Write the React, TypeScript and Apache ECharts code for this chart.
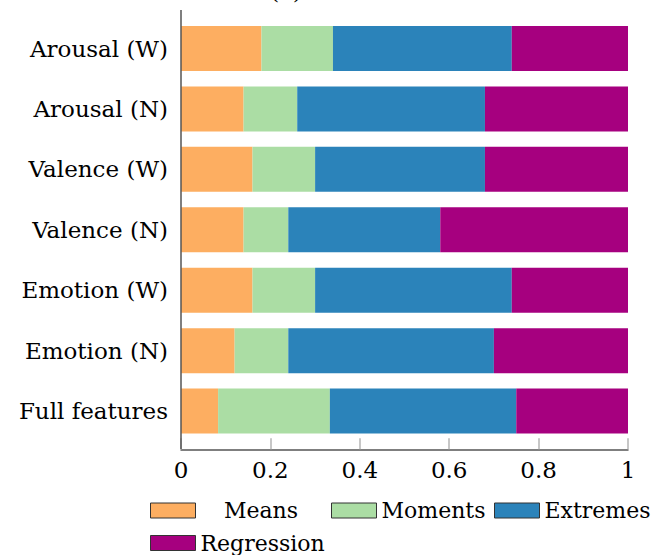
import React, { useEffect, useRef } from "react";
import * as echarts from "echarts";

const categories = ["Arousal (W)", "Arousal (N)", "Valence (W)", "Valence (N)", "Emotion (W)", "Emotion (N)", "Full features"];
const means = [0.18, 0.14, 0.16, 0.14, 0.16, 0.12, 0.083];
const moments = [0.16, 0.12, 0.14, 0.10, 0.14, 0.12, 0.25];
const extremes = [0.40, 0.42, 0.38, 0.34, 0.44, 0.46, 0.417];
const regression = [0.26, 0.32, 0.32, 0.42, 0.26, 0.30, 0.25];
const seriesNames = ["Means", "Moments", "Extremes", "Regression"];
const colors = ["#fdae61", "#abdda4", "#2b83ba", "#a6007f"];
const xTicks = [0, 0.2, 0.4, 0.6, 0.8, 1];

const FONT = "DejaVu Serif";
const FS = 23;

export default function App() {
  const ref = useRef<HTMLDivElement>(null);
  useEffect(() => {
    if (!ref.current) return;
    const chart = echarts.init(ref.current, null, { renderer: "svg" });
    const data = [means, moments, extremes, regression];
    const legendText = { fontFamily: FONT, fontSize: 22, color: "#000", lineHeight: 26 };
    const mkLegend = (name: string, left: number, top: number, centered: boolean) => ({
      data: [name],
      left,
      top,
      orient: "horizontal",
      itemWidth: 45,
      itemHeight: 15,
      padding: 0,
      icon: "rect",
      itemStyle: { borderColor: "#333", borderWidth: 1 },
      textStyle: centered
        ? { ...legendText, rich: { c: { fontFamily: FONT, fontSize: 22, color: "#000", width: 121, align: "center", lineHeight: 26 } } }
        : legendText,
      formatter: centered ? "{c|{name}}" : "{name}",
    });
    chart.setOption({
      animation: false,
      color: colors,
      textStyle: { fontFamily: FONT },
      grid: { left: 181, right: 26, top: 18.3, bottom: 113.7, containLabel: false },
      legend: [
        mkLegend("Means", 150, 497.5, true),
        mkLegend("Moments", 331, 497.5, false),
        mkLegend("Extremes", 494, 497.5, false),
        mkLegend("Regression", 150, 530, false),
      ],
      xAxis: {
        type: "value",
        min: 0,
        max: 1,
        interval: 0.2,
        offset: 8,
        splitLine: { show: false },
        axisLine: { show: true, lineStyle: { color: "#555", width: 1.5 } },
        axisTick: { show: true, inside: true, length: 11, lineStyle: { color: "#b5b5b5", width: 1.5 } },
        axisLabel: {
          margin: 9,
          fontFamily: FONT,
          fontSize: FS,
          color: "#000",
          formatter: (v: number) => {
            const t = xTicks.find((x) => Math.abs(x - v) < 1e-9);
            return t === undefined ? "" : String(t);
          },
        },
      },
      yAxis: {
        type: "category",
        inverse: true,
        data: categories,
        axisLine: { show: false },
        axisTick: { show: false },
        axisLabel: { margin: 13, fontFamily: FONT, fontSize: FS, color: "#000" },
      },
      graphic: [
        { type: "line", shape: { x1: 181, y1: 10, x2: 181, y2: 449 }, style: { stroke: "#555", lineWidth: 1.5 }, z: 100 },
        { type: "text", x: 286, y: -9, style: { text: "(a)", fontFamily: FONT, fontSize: FS, fill: "#000", textAlign: "center", textVerticalAlign: "middle" } },
      ],
      series: seriesNames.map((name, i) => ({
        name,
        type: "bar",
        stack: "total",
        barWidth: 45,
        data: data[i],
        itemStyle: { color: colors[i] },
      })),
    });
    return () => chart.dispose();
  }, []);
  return <div ref={ref} style={{ width: 654, height: 555, position: "absolute", left: 0, top: 0 }} />;
}
